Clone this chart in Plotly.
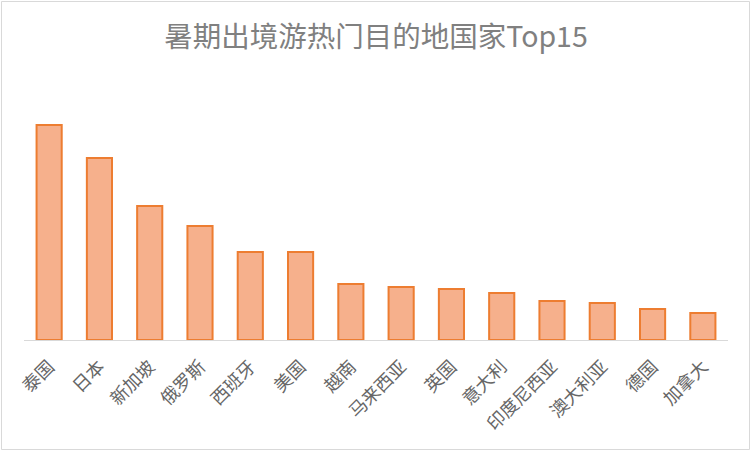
import plotly.graph_objects as go

countries = ["泰国", "日本", "新加坡", "俄罗斯", "西班牙", "美国", "越南", "马来西亚",
             "英国", "意大利", "印度尼西亚", "澳大利亚", "德国", "加拿大"]
values = [215, 182, 134, 114, 88, 88, 56, 53, 51, 47, 39, 37, 31, 27]

W, H = 752, 452
L, R, T, B = 24, 24, 100, 112

fig = go.Figure()
fig.add_trace(go.Bar(
    x=countries, y=values,
    marker=dict(color="#F6B08C", line=dict(color="#ED7D31", width=2)),
    hoverinfo="x+y",
))

pw = W - L - R
ph = H - T - B
fig.update_layout(
    width=W, height=H,
    margin=dict(l=L, r=R, t=T, b=B, autoexpand=False),
    paper_bgcolor="white", plot_bgcolor="white",
    bargap=0.5,
    showlegend=False,
    title=dict(text="暑期出境游热门目的地国家Top15", x=0.5, xanchor="center",
               y=1 - 37 / H, yanchor="middle",
               font=dict(family="Noto Sans CJK SC", size=28.5, color="#808080")),
    font=dict(family="Noto Sans CJK SC", color="#595959"),
    xaxis=dict(showline=True, linecolor="#D9D9D9", linewidth=1, tickangle=-45,
               automargin=False, ticklabelstandoff=8,
               ticks="", tickfont=dict(size=18, color="#666666"), showgrid=False),
    yaxis=dict(visible=False, range=[0, ph], showgrid=False, zeroline=False,
               automargin=False),
    shapes=[dict(type="rect", xref="paper", yref="paper",
                 x0=(1.5 - L) / pw, x1=(W - 2.5 - L) / pw,
                 y0=-(B - 2.5) / ph, y1=1 + (T - 1.5) / ph,
                 line=dict(color="#D9D9D9", width=1), layer="below")],
)
fig.write_html("out.html", config={"displayModeBar": False},
               post_script="document.body.style.margin='0';document.body.style.overflow='hidden';")
